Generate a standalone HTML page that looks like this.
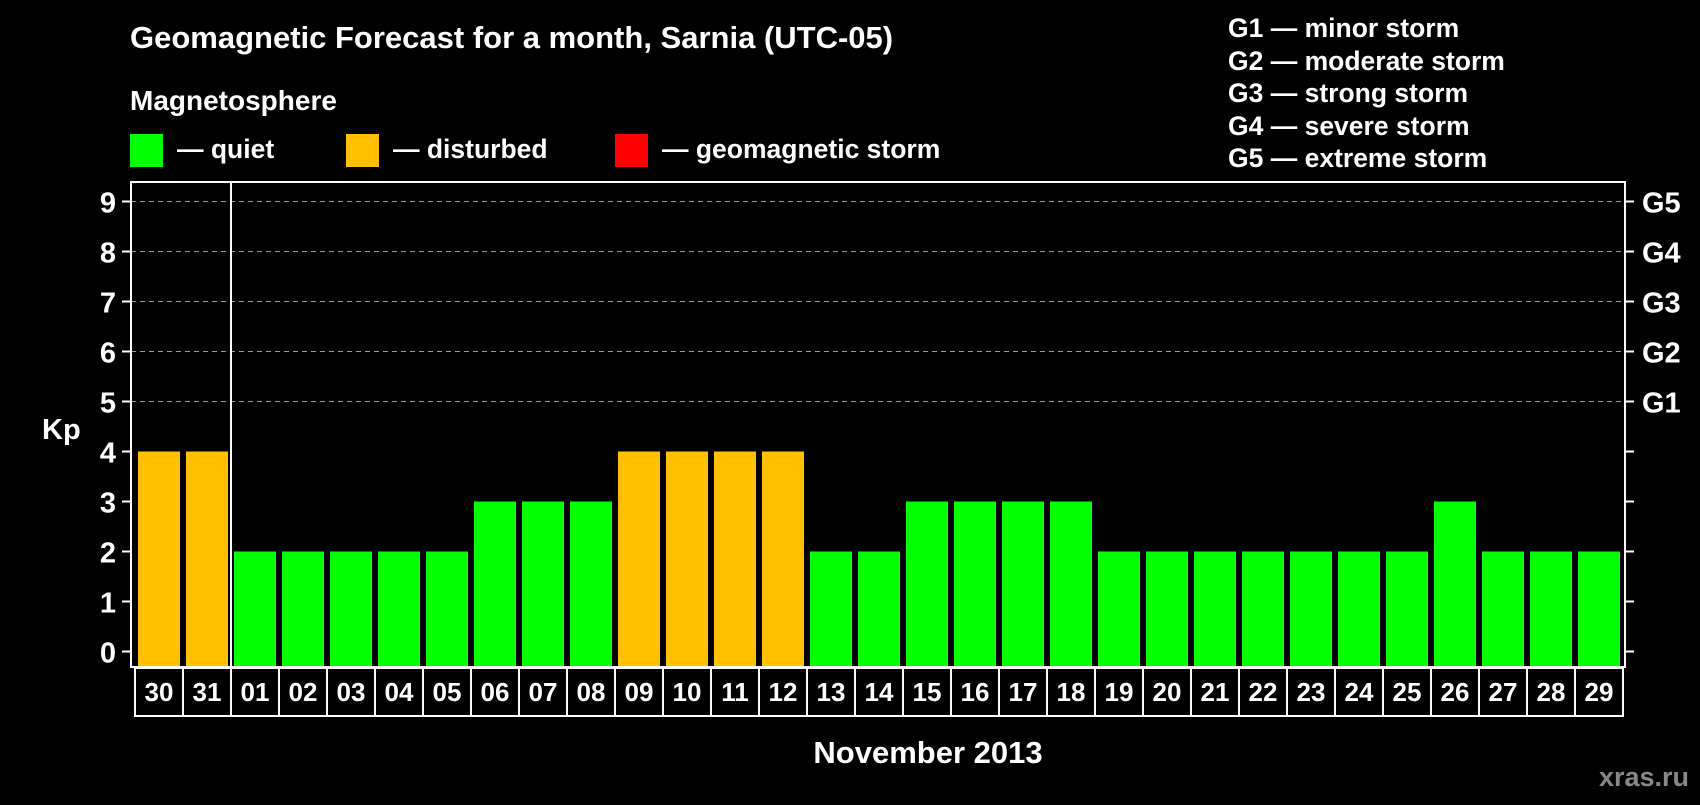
<!DOCTYPE html>
<html><head><meta charset="utf-8"><style>
body{margin:0;background:#000;width:1700px;height:800px;overflow:hidden;font-family:"Liberation Sans",sans-serif;}
svg text{font-family:"Liberation Sans",sans-serif;font-weight:bold;fill:#fff;}
</style></head><body>
<svg width="1700" height="800">
<g id="hdr">
<text x="130" y="48" font-size="31">Geomagnetic Forecast for a month, Sarnia (UTC-05)</text>
<text x="130" y="110" font-size="28">Magnetosphere</text>
<rect x="130" y="134" width="33" height="33" fill="#00ff00"/>
<text x="177" y="158" font-size="26.5">— quiet</text>
<rect x="346" y="134" width="33" height="33" fill="#ffc000"/>
<text x="393" y="158" font-size="26.5">— disturbed</text>
<rect x="615" y="134" width="33" height="33" fill="#ff0000"/>
<text x="662" y="158" font-size="26.5">— geomagnetic storm</text>
<text x="1228" y="37" font-size="26.5">G1 — minor storm</text>
<text x="1228" y="70" font-size="26.5">G2 — moderate storm</text>
<text x="1228" y="102" font-size="26.5">G3 — strong storm</text>
<text x="1228" y="135" font-size="26.5">G4 — severe storm</text>
<text x="1228" y="167" font-size="26.5">G5 — extreme storm</text>
<text x="42" y="439" font-size="29">Kp</text>
<text x="928" y="763" font-size="31" text-anchor="middle">November 2013</text>
<text x="1689" y="786" font-size="27" text-anchor="end" style="fill:#888">xras.ru</text>
</g>
<g id="plot"></g>
</svg>
<script>
const days=["30","31","01","02","03","04","05","06","07","08","09","10","11","12","13","14","15","16","17","18","19","20","21","22","23","24","25","26","27","28","29"];
const kp=[4,4,2,2,2,2,2,3,3,3,4,4,4,4,2,2,3,3,3,3,2,2,2,2,2,2,2,3,2,2,2];
const yTicks=[0,1,2,3,4,5,6,7,8,9];
const gLabels=["G1","G2","G3","G4","G5"];
const NS="http://www.w3.org/2000/svg";
const g=document.getElementById('plot');
const L=131,R=1625,T=182,B=667;
const y=v=>651.5-v*50;
const x=i=>138+i*48;
function mk(t,a,txt){const e=document.createElementNS(NS,t);for(const k in a)e.setAttribute(k,a[k]);if(txt!==undefined)e.textContent=txt;g.appendChild(e);return e;}
yTicks.forEach(v=>{
 if(v>=5){const l=mk('line',{x1:L,x2:R,y1:y(v),y2:y(v),stroke:'#999','stroke-dasharray':'5,4','stroke-width':1});
 
 }
 const t1=mk('line',{x1:L-9,x2:L,y1:y(v),y2:y(v),stroke:'#fff','stroke-width':2});
 
 
 const t2=mk('line',{x1:R,x2:R+9,y1:y(v),y2:y(v),stroke:'#fff','stroke-width':2});
 
 
 const lb=mk('text',{x:116,y:y(v)+11,'font-size':29,'text-anchor':'end'},String(v));
 
 
});
gLabels.forEach((s,i)=>{
 const t=mk('text',{x:1642,y:y(5+i)+11,'font-size':29},s);
 
 
});
kp.forEach((v,i)=>{
 const c=v>=5?'#ff0000':(v>=4?'#ffc000':'#00ff00');
 const r=mk('rect',{x:x(i),y:y(v),width:42,height:B-1-y(v),fill:c});
 
 
 const cell=mk('rect',{x:135+i*48,y:668,width:48,height:48,fill:'none',stroke:'#fff','stroke-width':2});
 
 
 const t=mk('text',{x:159+i*48,y:701,'font-size':26,'text-anchor':'middle'},days[i]);
 
 
});
const fr=mk('rect',{x:L,y:T,width:R-L,height:B-T,fill:'none',stroke:'#fff','stroke-width':2});


const mdiv=mk('line',{x1:231,x2:231,y1:T,y2:716,stroke:'#fff','stroke-width':2});


</script>
</body></html>
